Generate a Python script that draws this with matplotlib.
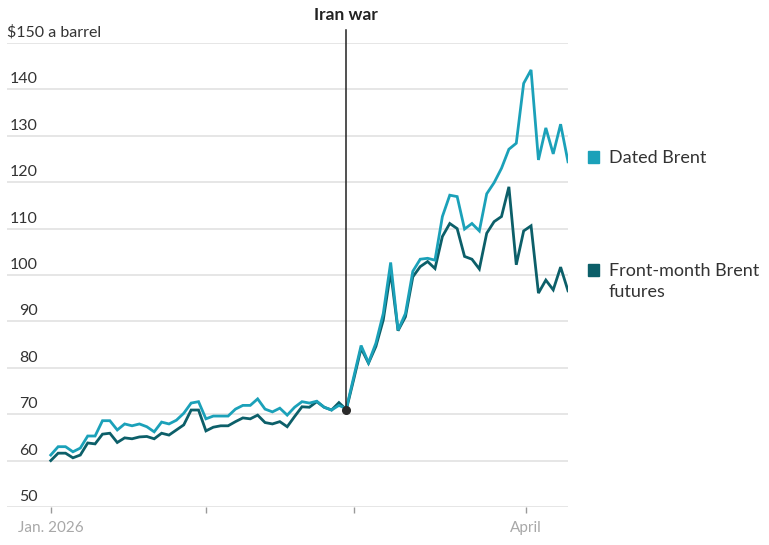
import matplotlib
matplotlib.use("Agg")
import matplotlib.pyplot as plt
import matplotlib.transforms as mtransforms
from matplotlib.patches import Rectangle

# ---- data (trading-day index 0..70, Jan 2 2026 onward) ----
dated_brent = [61.2, 63.0, 63.0, 61.9, 62.7, 65.3, 65.3, 68.6, 68.6, 66.6,
               67.9, 67.5, 67.9, 67.3, 66.2, 68.3, 67.9, 68.7, 70.2, 72.4,
               72.7, 69.0, 69.6, 69.6, 69.6, 71.1, 71.9, 71.9, 73.3, 71.1,
               70.5, 71.3, 69.8, 71.5, 72.7, 72.4, 72.8, 71.5, 70.9, 71.9,
               71.2, 78.0, 84.8, 81.1, 85.3, 91.7, 102.7, 88.1, 91.7, 100.8,
               103.4, 103.6, 103.2, 112.6, 117.2, 116.9, 109.9, 111.1, 109.5, 117.5,
               119.9, 123.0, 127.1, 128.4, 141.3, 144.2, 124.8, 131.7, 126.1, 132.5,
               124.4]
front_month = [60.0, 61.6, 61.6, 60.6, 61.2, 63.8, 63.6, 65.7, 65.9, 63.9,
               64.9, 64.7, 65.1, 65.2, 64.7, 65.9, 65.5, 66.6, 67.7, 70.9,
               70.9, 66.4, 67.2, 67.5, 67.5, 68.4, 69.2, 69.0, 69.8, 68.2,
               67.9, 68.4, 67.3, 69.5, 71.6, 71.5, 72.7, 71.5, 70.9, 72.5,
               71.0, 77.5, 84.2, 81.0, 84.6, 90.3, 100.7, 88.0, 91.0, 99.6,
               101.8, 102.9, 101.4, 108.3, 111.1, 110.0, 104.0, 103.4, 101.3, 109.0,
               111.5, 112.6, 119.0, 102.2, 109.5, 110.6, 96.1, 98.9, 96.8, 101.7,
               96.6]
x_idx = list(range(len(dated_brent)))
y_ticks = [50, 60, 70, 80, 90, 100, 110, 120, 130, 140, 150]
x_tick_pos = [0, 21, 41, 64.3]
x_tick_labels = ["Jan. 2026", "", "", "April"]
war_index = 40
series_names = ["Dated Brent", "Front-month Brent\nfutures"]

# ---- style ----
C_DATED = "#1ba1b9"
C_FRONT = "#0c5f69"
GRID = "#e2e2e2"
TXT = "#333333"
FONT = ["Lato", "DejaVu Sans"]

W, H = 769, 545
fig = plt.figure(figsize=(W / 100, H / 100), dpi=100)
ax = fig.add_axes([7 / W, 1 - 507 / H, (568 - 7) / W, (507 - 43) / H])

ax.set_ylim(50, 150)
px_per_idx = 7.38
ax.set_xlim(-(50.7 - 7) / px_per_idx, 70.0)

for s in ax.spines.values():
    s.set_visible(False)
ax.set_yticks(y_ticks)
ax.yaxis.grid(True, color=GRID, linewidth=1.2)
ax.set_axisbelow(True)
ax.tick_params(axis="y", length=0, labelleft=False)

ax.set_xticks(x_tick_pos)
ax.set_xticklabels(x_tick_labels, fontfamily=FONT, fontsize=11, color="#a8a8a8")
ax.tick_params(axis="x", length=4, width=1, color="#999999", pad=6)

# y labels sitting above gridlines
trans = mtransforms.blended_transform_factory(fig.transFigure, ax.transData)
yoff = mtransforms.offset_copy(trans, fig=fig, x=0, y=3, units="dots")
for v in y_ticks:
    if v == 150:
        fig.text(7 / W, v, "$150 a barrel", transform=yoff, ha="left",
                 va="bottom", fontsize=11.5, color=TXT, fontfamily=FONT)
    else:
        fig.text(38 / W, v, str(v), transform=yoff, ha="right", va="bottom",
                 fontsize=11.5, color=TXT, fontfamily=FONT)

# lines
ax.plot(x_idx, front_month, color=C_FRONT, lw=2.0, solid_joinstyle="miter", zorder=3)
ax.plot(x_idx, dated_brent, color=C_DATED, lw=2.0, solid_joinstyle="miter", zorder=4)

# Iran war annotation
ax.plot([war_index, war_index], [front_month[war_index], 152.8], color="#222222",
        lw=1.1, clip_on=False, zorder=5)
ax.plot([war_index], [front_month[war_index]], "o", color="#2a2a2a", ms=5.5,
        zorder=6, clip_on=False)
ax.text(war_index, 154.3, "Iran war", ha="center", va="bottom", fontsize=12.5,
        fontweight="bold", color="#222222", fontfamily=["Lato", "DejaVu Sans"],
        clip_on=False)

# legend labels at right
for name, col, ypx_top in [(series_names[0], C_DATED, 157),
                           (series_names[1], C_FRONT, 270)]:
    ypx = H - ypx_top
    fig.patches.append(Rectangle((588 / W, (ypx - 6) / H), 11 / W, 12 / H,
                                 transform=fig.transFigure, color=col))
    fig.text(609 / W, (ypx + 7) / H, name, ha="left", va="top", fontsize=13,
             color=TXT, fontfamily=FONT, linespacing=1.4)

fig.savefig("out.png", dpi=100)
